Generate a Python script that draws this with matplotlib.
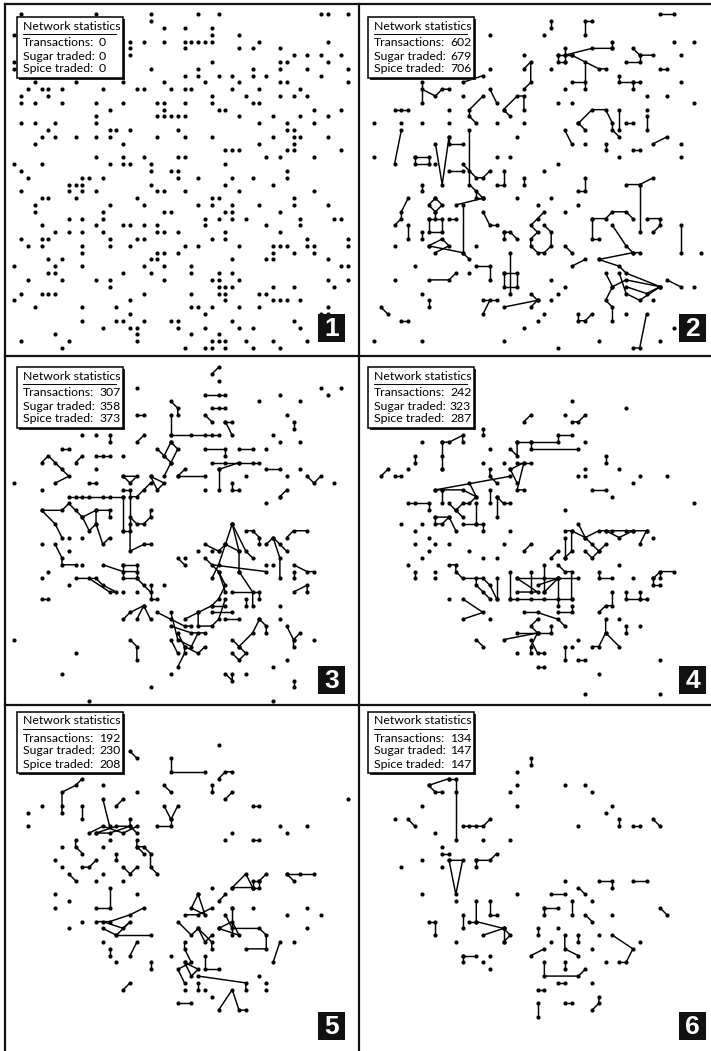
import matplotlib
matplotlib.use('Agg')
import matplotlib.pyplot as plt
from matplotlib.patches import Rectangle
from matplotlib.lines import Line2D

# Agent positions are (column, row) cells of the 50x50 lattice.
# Panel 1 has no trades yet: one list of occupied columns per row.
p1_rows = [
    [1, 12, 20, 27, 30, 45, 46, 49], [20], [22, 25, 29], [0, 29, 33],
    [17, 19, 22, 25, 26, 27, 28, 29, 36, 46], [17, 25, 33, 35, 39],
    [17, 41, 43, 45, 48], [0, 29, 39, 40, 46], [0, 20, 27, 35, 39, 43, 49],
    [25, 27, 30, 32, 35, 37, 45], [3, 9, 16, 22, 28, 33, 39, 40, 49],
    [2, 4, 5, 7, 13, 18, 19, 23, 25, 26, 32, 36, 42], [1, 5, 29, 34, 39, 41, 43],
    [1, 3, 7, 12, 16, 21, 22, 25, 29, 35, 36], [14, 22, 30, 31, 44, 48],
    [12, 21, 22, 23, 24, 25, 33, 38, 42, 46], [1, 3, 6, 12, 36, 40, 44],
    [5, 14, 15, 17, 24, 40, 41], [4, 6, 9, 12, 14, 21, 25, 29, 38, 41, 42, 46],
    [3, 16, 36, 41], [31, 32, 33, 40, 41, 48], [12, 16, 19, 24, 25, 37, 39, 44],
    [0, 4, 14, 16, 17, 20, 31], [1, 20, 23, 24, 40],
    [2, 10, 11, 13, 24, 27, 32, 35, 40], [8, 9, 10, 20, 31, 38],
    [1, 8, 10, 12, 21, 22, 25, 33, 44], [4, 5, 9, 18, 29, 30, 41],
    [3, 14, 19, 27, 29, 32, 36, 41, 46], [3, 13, 22, 23, 31, 32, 39],
    [8, 10, 13, 28, 30, 32, 34, 42, 47, 48], [4, 12, 16, 17, 19, 21, 28, 37, 42],
    [6, 8, 10, 13, 21, 22, 24, 31, 39], [1, 4, 5, 14, 18, 19, 29, 31, 43, 49],
    [2, 4, 10, 14, 17, 25, 27, 33, 38, 39, 40, 43, 44, 49],
    [10, 21, 22, 24, 38, 41, 44], [5, 7, 20, 21, 32, 37, 38, 46],
    [0, 6, 10, 19, 22, 26, 48, 49], [5, 6, 16, 20, 26, 30, 32],
    [2, 7, 12, 14, 22, 29, 30, 33, 46, 49], [14, 30, 31, 32, 38, 41, 47],
    [1, 4, 5, 6, 19, 26, 30, 31, 36, 37], [0, 17, 31, 38, 39, 40, 42],
    [3, 10, 15, 26, 27, 29, 33, 36, 46], [17, 28, 45, 46],
    [10, 15, 16, 19, 23, 24, 32, 41], [13, 17, 18, 24, 28, 33, 35, 42],
    [6, 18, 26, 30], [1, 8, 18, 29, 30, 31, 34, 38, 43],
    [7, 25, 28, 29, 31, 35, 39],
]

p2_dots = [(18, 3), (26, 3), (45, 4), (48, 4), (23, 6), (46, 6), (18, 8), (27, 8), (29, 11),
           (46, 10), (14, 12), (28, 13), (41, 12), (44, 12), (48, 13), (12, 14), (30, 13),
           (41, 14), (1, 16), (5, 16), (8, 16), (12, 16), (19, 16), (23, 16), (22, 18),
           (32, 19), (46, 19), (46, 21), (1, 21), (19, 21), (21, 21), (37, 21), (28, 22),
           (26, 23), (22, 27), (25, 28), (27, 27), (29, 29), (31, 28), (4, 34), (16, 34),
           (7, 37), (4, 39), (15, 38), (8, 41), (26, 44), (23, 46), (25, 45), (38, 44),
           (1, 48), (8, 48), (20, 48), (28, 49), (34, 48), (43, 48), (49, 35), (48, 40),
           (27, 39), (29, 40), (27, 42), (28, 41), (42, 42), (45, 46), (10, 22)]
p2_links = [
    [(43, 0), (45, 0)], [(27, 1), (27, 2)], [(33, 1), (32, 1), (32, 3)], [(36, 4), (36, 5)],
    [(28, 6), (29, 6), (30, 6)], [(28, 6), (28, 7), (29, 7)], [(29, 5), (29, 7)],
    [(29, 6), (33, 5), (36, 5)], [(30, 6), (34, 8), (35, 8)], [(32, 7), (32, 11)],
    [(30, 10), (32, 10)], [(39, 5), (40, 6), (42, 6)], [(38, 7), (40, 7), (40, 6)],
    [(43, 8), (44, 8)], [(23, 8), (24, 7), (24, 10), (23, 11)], [(17, 9), (14, 10)],
    [(37, 9), (37, 10), (39, 10), (40, 10)], [(39, 10), (39, 11)], [(8, 10), (8, 13)],
    [(8, 11), (10, 12), (11, 11), (12, 11)], [(18, 11), (19, 13)],
    [(17, 12), (15, 14), (15, 15), (16, 16)], [(20, 14), (22, 12), (23, 12), (23, 14)],
    [(20, 14), (21, 15)], [(4, 14), (5, 14), (6, 14)],
    [(31, 16), (33, 14), (35, 14), (36, 16), (36, 17), (37, 18)], [(37, 14), (37, 17)],
    [(38, 16), (39, 16)], [(41, 15), (41, 17)], [(31, 16), (32, 17)],
    [(15, 17), (15, 25), (17, 27)], [(5, 17), (4, 22)], [(12, 18), (12, 19), (14, 19)],
    [(10, 19), (11, 25), (12, 18)], [(29, 17), (30, 19)], [(35, 19), (35, 20)],
    [(39, 20), (40, 20)], [(42, 19), (44, 18)], [(7, 21), (9, 21), (9, 22), (7, 22), (7, 21)],
    [(14, 22), (15, 23), (16, 24), (17, 24), (18, 23)], [(12, 23), (14, 23)],
    [(20, 23), (20, 25), (19, 25)], [(23, 24), (23, 25)], [(32, 24), (32, 26), (31, 26)],
    [(38, 25), (40, 25), (42, 24)], [(40, 25), (40, 32)], [(8, 25), (8, 26)],
    [(16, 26), (16, 27), (17, 27)], [(6, 27), (5, 29), (5, 30), (4, 31)],
    [(10, 27), (9, 28), (10, 29), (11, 28), (10, 27)],
    [(9, 30), (11, 30), (11, 32), (9, 32), (9, 30)], [(10, 29), (10, 30)],
    [(9, 34), (11, 33), (12, 34), (10, 35)], [(9, 34), (14, 35), (15, 36)],
    [(13, 28), (17, 27)], [(14, 28), (14, 35)], [(12, 30), (13, 30)],
    [(17, 29), (18, 31), (19, 31)], [(6, 31), (6, 33)], [(8, 32), (8, 33)],
    [(20, 32), (21, 32), (22, 33)], [(20, 32), (20, 33)],
    [(26, 29), (25, 30), (24, 31), (25, 32), (24, 33), (24, 34), (25, 35), (26, 35),
     (27, 34), (27, 32), (26, 31)],
    [(29, 34), (30, 35)], [(30, 37), (32, 36)],
    [(33, 30), (35, 30), (36, 29), (38, 29), (39, 30)], [(33, 30), (33, 33), (34, 33)],
    [(36, 31), (38, 34), (39, 35), (40, 35)], [(41, 30), (43, 30), (43, 31), (42, 32)],
    [(46, 31), (46, 35)], [(34, 36), (39, 35)], [(34, 36), (37, 37), (38, 38), (43, 40)],
    [(35, 38), (36, 40), (35, 42), (36, 43), (36, 45)],
    [(36, 40), (38, 39), (43, 40), (41, 41), (38, 40)],
    [(37, 38), (38, 41), (40, 42), (43, 40)], [(31, 44), (31, 45), (32, 45), (33, 44)],
    [(21, 35), (21, 41)], [(20, 38), (22, 38), (22, 40), (20, 40), (20, 38)],
    [(16, 37), (18, 37), (18, 39)], [(9, 39), (12, 39), (13, 38)], [(9, 42), (9, 43)],
    [(2, 43), (3, 44)], [(5, 45), (6, 45)], [(17, 42), (19, 42)], [(18, 42), (17, 44)],
    [(20, 43), (25, 42)], [(24, 41), (25, 42), (24, 43)], [(41, 44), (40, 49), (39, 49)],
    [(44, 39), (46, 40)],
]

p3_dots = [(30, 2), (18, 3), (45, 3), (46, 4), (48, 3), (36, 5), (39, 4), (42, 5), (40, 7),
           (42, 11), (12, 10), (10, 10), (38, 10), (39, 11), (37, 12), (16, 13), (0, 17),
           (4, 18), (42, 15), (40, 16), (47, 17), (34, 16), (28, 18), (39, 19), (37, 20),
           (8, 25), (8, 27), (10, 25), (4, 26), (10, 29), (4, 31), (5, 30), (8, 32), (22, 32),
           (25, 28), (27, 27), (29, 27), (30, 27), (37, 29), (38, 29), (39, 35), (39, 37),
           (44, 40), (0, 40), (9, 42), (7, 45), (23, 45), (20, 47), (11, 49), (38, 49),
           (38, 44), (40, 43), (34, 45), (12, 15), (16, 33), (18, 33)]
p3_links = [
    [(30, 0), (29, 1)], [(28, 4), (30, 4), (31, 4)], [(23, 5), (24, 6), (24, 7)],
    [(29, 6), (30, 6), (31, 6)], [(18, 7), (19, 7)], [(28, 7), (29, 8)], [(31, 8), (32, 8)],
    [(31, 8), (32, 10)], [(41, 8), (41, 9)], [(23, 7), (23, 10)],
    [(23, 10), (26, 10), (28, 10), (29, 10), (30, 10)], [(14, 10), (14, 11)],
    [(19, 10), (18, 11)], [(28, 12), (31, 12), (31, 13)], [(33, 12), (35, 12)],
    [(7, 12), (8, 12)], [(10, 13), (9, 14)], [(12, 13), (13, 13), (14, 13)],
    [(23, 11), (22, 13), (23, 14), (24, 12), (23, 11)], [(22, 13), (21, 12)],
    [(23, 14), (22, 16)], [(29, 14), (31, 14), (33, 14), (35, 14), (36, 14)],
    [(30, 15), (33, 14)], [(30, 15), (30, 18)],
    [(4, 14), (5, 13), (6, 14), (7, 15), (8, 16), (6, 17)], [(24, 16), (25, 15)],
    [(24, 16), (28, 16)], [(37, 15), (39, 15)], [(43, 16), (44, 17), (45, 16)],
    [(32, 17), (32, 18), (33, 18)], [(39, 19), (40, 18)], [(11, 17), (12, 17)],
    [(16, 16), (17, 17), (18, 16), (16, 16)], [(20, 16), (22, 17), (21, 18), (20, 16)],
    [(8, 19), (9, 19), (10, 19), (11, 19), (13, 19), (14, 19), (16, 19)],
    [(16, 18), (17, 18), (17, 24), (16, 24)], [(16, 19), (16, 24)],
    [(17, 19), (18, 19), (19, 18), (20, 17)],
    [(4, 21), (7, 21), (8, 20), (9, 21), (10, 22), (11, 24), (12, 23)],
    [(4, 21), (6, 23), (7, 25)], [(10, 22), (12, 21), (14, 21), (14, 22)],
    [(12, 21), (12, 23), (13, 26), (14, 25)],
    [(17, 22), (18, 23), (19, 23), (20, 22), (20, 21)],
    [(17, 23), (17, 27), (19, 26), (20, 26)], [(6, 26), (7, 28), (7, 29), (9, 29)],
    [(13, 29), (16, 30), (18, 30)], [(16, 29), (18, 29), (18, 31), (16, 31), (16, 29)],
    [(18, 31), (19, 32), (20, 33)],
    [(9, 31), (12, 31), (13, 32), (15, 33), (14, 33), (11, 31)], [(4, 34), (5, 34)],
    [(20, 32), (20, 34), (21, 34)], [(24, 28), (25, 29)],
    [(32, 23), (31, 26), (30, 29), (29, 31)], [(32, 23), (34, 27), (35, 28)],
    [(32, 23), (33, 27), (33, 30)], [(31, 26), (33, 27)], [(28, 26), (30, 27), (31, 26)],
    [(29, 29), (37, 30)], [(33, 30), (35, 33), (35, 35)], [(28, 28), (30, 30), (31, 33)],
    [(34, 24), (35, 24), (36, 25), (36, 26)], [(37, 26), (38, 25), (39, 26), (40, 27)],
    [(38, 25), (39, 28), (39, 31)], [(40, 25), (41, 24), (43, 24)],
    [(41, 29), (43, 30), (44, 30)], [(41, 30), (41, 31)], [(41, 33), (43, 32), (43, 33)],
    [(32, 33), (36, 33), (36, 34)], [(34, 34), (34, 35)],
    [(21, 36), (23, 37), (25, 38), (26, 38)], [(23, 36), (24, 40), (26, 41), (27, 39)],
    [(25, 37), (27, 36), (29, 35), (30, 34), (31, 32), (30, 30)],
    [(27, 36), (27, 38), (29, 38), (30, 37), (31, 34)], [(29, 35), (31, 35)],
    [(31, 37), (33, 37)], [(23, 38), (26, 39), (28, 39)],
    [(16, 37), (17, 36), (19, 35), (20, 37)], [(19, 35), (18, 37)], [(29, 36), (32, 36)],
    [(24, 39), (25, 41), (25, 42), (24, 44)], [(25, 41), (27, 42), (28, 41)],
    [(17, 40), (18, 41), (18, 43)], [(23, 40), (24, 42)],
    [(32, 40), (33, 41), (34, 42), (33, 43), (32, 42)], [(33, 41), (35, 39), (36, 37)],
    [(36, 37), (37, 38), (37, 39)], [(40, 38), (41, 40), (41, 41)], [(42, 39), (41, 40)],
    [(41, 46), (41, 47)], [(31, 45), (32, 46), (32, 45)],
]

p4_dots = [(30, 5), (38, 6), (29, 7), (8, 11), (32, 11), (18, 12), (17, 14), (20, 14), (6, 15),
           (11, 15), (32, 15), (37, 15), (29, 21), (48, 20), (5, 23), (8, 23), (7, 24), (9, 25),
           (7, 26), (10, 26), (12, 26), (15, 27), (17, 28), (19, 28), (9, 27), (8, 28), (6, 29),
           (21, 24), (10, 30), (10, 31), (12, 34), (18, 37), (22, 42), (39, 31), (37, 37),
           (40, 38), (31, 40), (43, 43), (34, 45), (32, 48), (43, 48), (37, 29), (42, 25),
           (31, 16), (32, 16), (40, 16), (39, 17), (44, 16), (36, 19), (20, 26), (30, 41)]
p4_links = [
    [(30, 8), (31, 8), (32, 7)], [(24, 7), (23, 8)], [(17, 9), (17, 10)],
    [(11, 11), (12, 11), (14, 10), (14, 11)], [(11, 11), (11, 13), (11, 15)],
    [(22, 11), (24, 11), (28, 11), (28, 10), (30, 10)], [(22, 11), (22, 13), (21, 12)],
    [(24, 11), (24, 12), (31, 12)], [(7, 13), (7, 14)], [(22, 14), (23, 14), (24, 14)],
    [(3, 15), (2, 16)], [(35, 13), (35, 14)], [(4, 16), (5, 16)], [(33, 18), (35, 18)],
    [(18, 15), (18, 16), (19, 17)], [(21, 15), (23, 14), (22, 18), (23, 18)],
    [(21, 15), (22, 17)], [(10, 18), (21, 16)], [(10, 18), (11, 18), (14, 18), (16, 19)],
    [(11, 18), (11, 20)], [(15, 17), (16, 19), (15, 20), (14, 20), (13, 21)],
    [(12, 20), (13, 21), (14, 22)], [(18, 18), (18, 20)], [(19, 19), (20, 20), (21, 20)],
    [(19, 19), (19, 22)], [(16, 20), (16, 23), (17, 23), (17, 24)], [(14, 23), (16, 23)],
    [(6, 20), (7, 20), (9, 20), (9, 21)], [(10, 22), (12, 22), (13, 24)],
    [(10, 22), (10, 23), (11, 23), (12, 22)], [(24, 26), (23, 27)], [(7, 30), (7, 31)],
    [(12, 29), (13, 29), (13, 30), (14, 31), (17, 31), (18, 32), (19, 34)],
    [(16, 31), (16, 32), (17, 33), (18, 34)], [(19, 31), (19, 34)],
    [(14, 34), (17, 36), (14, 37)], [(16, 40), (17, 41)], [(20, 40), (25, 39)],
    [(29, 24), (30, 24), (32, 25), (34, 24), (35, 24), (36, 24), (38, 24), (39, 24), (41, 24)],
    [(35, 24), (37, 25), (39, 24)], [(41, 24), (40, 26)],
    [(31, 23), (32, 25), (33, 26), (34, 27), (35, 26)], [(30, 24), (30, 27), (29, 28)],
    [(29, 25), (29, 28)], [(27, 28), (28, 27)], [(28, 29), (29, 30), (30, 30), (30, 34)],
    [(21, 34), (22, 34), (24, 34), (26, 34), (28, 34), (30, 34)], [(21, 30), (21, 34)],
    [(22, 31), (26, 31), (28, 31), (31, 31)], [(22, 31), (25, 33), (22, 33)],
    [(25, 32), (28, 31), (26, 33)], [(28, 31), (28, 35)], [(24, 30), (24, 33)],
    [(26, 29), (26, 33)], [(23, 36), (25, 36), (28, 37), (29, 38)],
    [(25, 37), (24, 38), (25, 39)], [(22, 39), (27, 39), (27, 38)],
    [(24, 40), (25, 42), (26, 42)], [(25, 39), (24, 41), (24, 42)],
    [(28, 36), (30, 36), (30, 35)], [(34, 36), (35, 35), (36, 35), (36, 33)],
    [(32, 27), (33, 28), (34, 27)], [(34, 30), (34, 31), (36, 31)],
    [(42, 31), (43, 30), (45, 30)], [(43, 30), (43, 31)], [(42, 31), (42, 32), (43, 32)],
    [(38, 33), (38, 34), (40, 34), (40, 33)], [(40, 34), (41, 34)], [(38, 38), (38, 39)],
    [(35, 37), (35, 39), (34, 41), (33, 41)], [(35, 39), (37, 41)], [(29, 41), (29, 43)],
    [(31, 43), (32, 43)], [(25, 44), (26, 44)],
]

p5_dots = [(30, 4), (13, 10), (18, 11), (49, 12), (4, 13), (2, 14), (2, 16), (32, 17), (31, 18),
           (39, 16), (40, 17), (43, 16), (7, 19), (13, 19), (14, 18), (6, 21), (7, 22), (13, 23),
           (12, 24), (16, 24), (6, 26), (8, 27), (6, 28), (18, 26), (29, 25), (32, 28), (35, 28),
           (40, 29), (43, 28), (45, 29), (43, 31), (41, 33), (8, 31), (10, 30), (13, 33),
           (15, 36), (23, 35), (36, 38), (37, 39), (37, 40), (25, 40), (28, 40), (29, 41)]
p5_links = [
    [(17, 5), (18, 6)], [(23, 6), (23, 8), (28, 8)], [(30, 9), (31, 8), (32, 8)],
    [(10, 9), (9, 10), (7, 11), (7, 13), (7, 14)], [(22, 10), (23, 11)], [(29, 10), (29, 11)],
    [(32, 11), (31, 12)], [(16, 12), (15, 13)], [(10, 13), (10, 15)], [(13, 12), (14, 16)],
    [(22, 13), (23, 15), (24, 13)], [(23, 15), (23, 16), (21, 16)], [(35, 13), (36, 13)],
    [(11, 17), (13, 16), (16, 17), (18, 16)], [(12, 17), (15, 16), (17, 16), (14, 17), (12, 17)],
    [(17, 15), (17, 16), (18, 17)], [(35, 18), (36, 18)], [(9, 18), (9, 19), (10, 20)],
    [(15, 20), (15, 21)], [(18, 18), (18, 19), (19, 19), (20, 20), (20, 22), (21, 23)],
    [(18, 19), (19, 20)], [(10, 22), (11, 22), (12, 21)], [(16, 22), (17, 23), (18, 22)],
    [(8, 23), (9, 24)], [(14, 25), (14, 28), (12, 28)], [(31, 26), (30, 27)],
    [(32, 25), (34, 23), (35, 25), (32, 25)], [(35, 25), (35, 24), (36, 24), (36, 25), (35, 25)],
    [(36, 24), (37, 23)], [(40, 23), (42, 23), (44, 23)], [(40, 23), (41, 24)],
    [(12, 30), (14, 30), (17, 29), (19, 28)], [(13, 30), (16, 31), (17, 30), (15, 32), (13, 31)],
    [(15, 32), (20, 32)], [(14, 34), (14, 35)], [(18, 33), (17, 35)], [(20, 36), (20, 37)],
    [(27, 26), (26, 28), (28, 29), (27, 26)], [(25, 29), (27, 29), (29, 28)],
    [(24, 30), (26, 32), (27, 31), (28, 33), (29, 32)], [(27, 31), (29, 33), (29, 34)],
    [(25, 33), (25, 34), (26, 36), (24, 37), (25, 39)], [(25, 36), (27, 37), (26, 38), (25, 36)],
    [(28, 35), (28, 37), (30, 37)], [(27, 38), (34, 39), (34, 40)], [(27, 39), (27, 40)],
    [(31, 29), (32, 31), (36, 31), (37, 32), (37, 34), (34, 34)],
    [(30, 31), (32, 30), (33, 32), (30, 31)], [(32, 28), (32, 32)], [(38, 36), (39, 33)],
    [(30, 43), (32, 40), (33, 43), (34, 43)], [(24, 42), (26, 42)], [(16, 40), (17, 39)],
]

p6_dots = [(22, 8), (22, 10), (21, 11), (22, 13), (29, 10), (32, 10), (33, 11), (8, 13), (4, 15),
           (10, 17), (11, 19), (17, 18), (21, 18), (36, 13), (35, 14), (31, 16), (5, 22), (8, 21),
           (11, 22), (8, 26), (13, 27), (22, 26), (29, 24), (33, 27), (36, 29), (13, 33),
           (28, 31), (27, 33), (33, 34), (34, 32), (40, 33), (35, 36), (17, 36), (18, 35),
           (18, 37), (33, 39)]
p6_links = [
    [(24, 6), (24, 7)], [(12, 9), (13, 9), (13, 11), (13, 18)], [(9, 10), (12, 9)],
    [(9, 10), (10, 11), (11, 11)], [(6, 15), (7, 16)],
    [(14, 16), (15, 16), (16, 16), (17, 16), (18, 15)], [(37, 15), (37, 16)],
    [(39, 16), (40, 16)], [(42, 15), (43, 16)], [(11, 20), (12, 20)],
    [(12, 21), (14, 21), (13, 26), (12, 21)], [(16, 21), (18, 21), (19, 20)],
    [(16, 21), (16, 22)], [(27, 26), (29, 26)], [(31, 25), (32, 26)],
    [(34, 24), (36, 24), (36, 25)], [(39, 24), (41, 24)], [(26, 28), (28, 28)],
    [(26, 28), (26, 29)], [(30, 27), (30, 29)], [(32, 29), (33, 30)], [(43, 28), (44, 29)],
    [(16, 27), (16, 30), (20, 31)], [(15, 30), (16, 30)], [(18, 27), (18, 29), (19, 29)],
    [(14, 29), (14, 31)], [(9, 30), (10, 30), (10, 32)],
    [(17, 32), (20, 31), (21, 32), (20, 33)], [(20, 31), (20, 33)], [(25, 31), (25, 32)],
    [(29, 32), (29, 34), (31, 35)], [(31, 32), (31, 33)],
    [(36, 32), (39, 34), (38, 36), (37, 36)], [(24, 35), (26, 34)], [(14, 35), (16, 35)],
    [(14, 35), (14, 36)], [(26, 36), (26, 38), (31, 38), (32, 37)], [(29, 36), (29, 37)],
    [(28, 39), (29, 39)], [(25, 40), (26, 40)], [(25, 42), (25, 44)], [(29, 42), (30, 42)],
    [(33, 43), (34, 42), (34, 41)],
]

transactions = [0, 602, 307, 242, 192, 134]
sugar_traded = [0, 679, 358, 323, 230, 147]
spice_traded = [0, 706, 373, 287, 208, 147]
panel_labels = ['1', '2', '3', '4', '5', '6']

# figure layout in pixels
W, H = 711, 1051
CELL = 6.81
COLS = [(5, 354, 9.3, 12, 313), (359, 352, 8.3, 9, 320)]     # left, width, grid offset, box x, badge x
ROWS = [(4, 352, 10.3, 13, 310), (356, 349, 11.3, 11, 310), (705, 346, 12.3, 7, 307)]


def draw_panel(fig, idx, dots, links):
    x0, w, ox, bx, kx = COLS[idx % 2]
    y0, h, oy, by, ky = ROWS[idx // 2]
    ax = fig.add_axes([x0 / W, 1 - (y0 + h) / H, w / W, h / H])
    ax.set_xlim(-ox / CELL, (w - ox) / CELL)
    ax.set_ylim((h - oy) / CELL, -oy / CELL)
    ax.axis('off')

    for chain in links:
        xs, ys = zip(*chain)
        ax.plot(xs, ys, color='black', lw=1.05, zorder=2, solid_capstyle='round')
    pts = list(dots) + [p for chain in links for p in chain]
    xs, ys = zip(*pts)
    ax.plot(xs, ys, 'o', ms=3.0, color='black', mew=0, zorder=3)

    fx = lambda px: px / w
    fy = lambda py: 1 - py / h

    # stats box with a drop shadow
    bw, bh = 106, 61
    ax.add_patch(Rectangle((fx(bx + 2), fy(by + bh + 2)), bw / w, bh / h, transform=ax.transAxes,
                           facecolor='#222222', edgecolor='none', zorder=4, clip_on=False))
    ax.add_patch(Rectangle((fx(bx), fy(by + bh)), bw / w, bh / h, transform=ax.transAxes,
                           facecolor='white', edgecolor='black', lw=1.1, zorder=5, clip_on=False))
    tx = bx + 6
    font = dict(family=['Lato', 'DejaVu Sans'], fontsize=8.8, color='black', zorder=6,
                va='center', ha='left', transform=ax.transAxes)
    ax.text(fx(tx), fy(by + 9), 'Network statistics', **font)
    ax.add_line(Line2D([fx(tx), fx(tx + 93)], [fy(by + 17), fy(by + 17)], transform=ax.transAxes,
                       color='black', lw=0.7, zorder=6))
    rows = [('Transactions:', transactions[idx]), ('Sugar traded:', sugar_traded[idx]),
            ('Spice traded:', spice_traded[idx])]
    for k, (lab, val) in enumerate(rows):
        yy = by + 26 + 13 * k
        ax.text(fx(tx), fy(yy), lab, **font)
        ax.text(fx(tx + 76), fy(yy), str(val), **font)

    # panel number badge
    ax.add_patch(Rectangle((fx(kx), fy(ky + 28)), 27 / w, 28 / h, transform=ax.transAxes,
                           facecolor='#111111', edgecolor='none', zorder=5))
    ax.text(fx(kx + 13.5), fy(ky + 14.5), panel_labels[idx], transform=ax.transAxes,
            family=['Liberation Sans', 'DejaVu Sans'], fontsize=19, fontweight='bold',
            color='white', ha='center', va='center', zorder=6)
    return ax


def main():
    fig = plt.figure(figsize=(W / 100, H / 100), dpi=100)
    fig.patch.set_facecolor('white')

    p1_dots = [(c, r) for r, cols in enumerate(p1_rows) for c in cols]
    panels = [(p1_dots, []), (p2_dots, p2_links), (p3_dots, p3_links),
              (p4_dots, p4_links), (p5_dots, p5_links), (p6_dots, p6_links)]
    for i, (dots, links) in enumerate(panels):
        draw_panel(fig, i, dots, links)

    # frame lines between panels
    frame = dict(color='#111111', lw=1.6, transform=fig.transFigure)
    fig.add_artist(Line2D([5 / W, 5 / W], [0, 1 - 4 / H], **frame))
    fig.add_artist(Line2D([5 / W, 1], [1 - 4 / H, 1 - 4 / H], **frame))
    fig.add_artist(Line2D([359 / W, 359 / W], [0, 1 - 4 / H], **frame))
    fig.add_artist(Line2D([5 / W, 1], [1 - 356 / H, 1 - 356 / H], **frame))
    fig.add_artist(Line2D([5 / W, 1], [1 - 705 / H, 1 - 705 / H], **frame))

    fig.savefig('out.png', dpi=100, facecolor='white')


if __name__ == '__main__':
    main()
